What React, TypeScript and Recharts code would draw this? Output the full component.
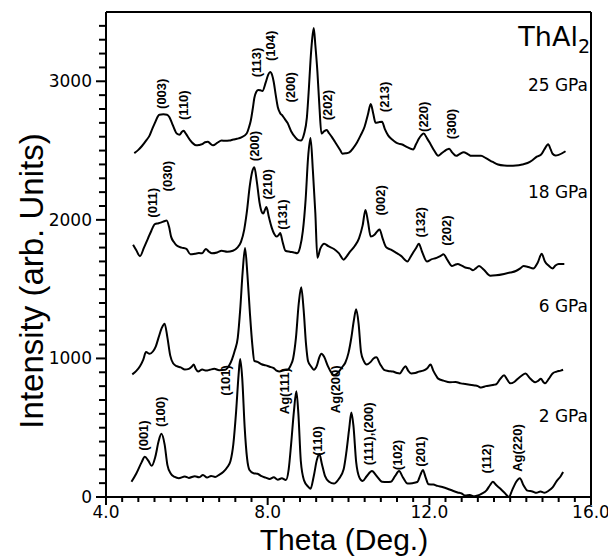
import { LineChart, Line, XAxis, YAxis, ReferenceLine, ReferenceDot } from 'recharts';

// 2 GPa pattern (theta, intensity)
const theta2 = [4.63, 4.75, 4.88, 4.96, 5.05, 5.13, 5.22, 5.3, 5.37, 5.45, 5.52, 5.6, 5.7, 5.8, 5.95, 6.05, 6.2, 6.3, 6.4, 6.5, 6.6, 6.7, 6.8, 6.9, 7.0, 7.08, 7.15, 7.22, 7.28, 7.32, 7.37, 7.43, 7.49, 7.55, 7.65, 7.75, 7.85, 7.95, 8.05, 8.15, 8.25, 8.35, 8.45, 8.52, 8.58, 8.65, 8.71, 8.76, 8.82, 8.9, 9.0, 9.06, 9.14, 9.22, 9.28, 9.34, 9.42, 9.52, 9.64, 9.76, 9.88, 9.95, 10.02, 10.07, 10.12, 10.19, 10.27, 10.35, 10.45, 10.58, 10.7, 10.83, 10.95, 11.05, 11.15, 11.25, 11.35, 11.46, 11.58, 11.7, 11.78, 11.84, 11.91, 11.98, 12.1, 12.2, 12.32, 12.45, 12.58, 12.7, 12.8, 12.89, 13.0, 13.1, 13.18, 13.3, 13.42, 13.5, 13.57, 13.66, 13.76, 13.86, 13.97, 14.05, 14.15, 14.24, 14.33, 14.43, 14.55, 14.65, 14.75, 14.85, 14.95, 15.05, 15.15, 15.25, 15.31];
const int2 = [110, 170, 250, 290, 260, 225, 290, 400, 456, 380, 230, 170, 145, 136, 148, 138, 150, 142, 158, 140, 152, 145, 160, 180, 215, 260, 380, 620, 880, 995, 860, 508, 280, 195, 172, 168, 150, 140, 130, 142, 125, 135, 122, 200, 380, 620, 764, 600, 260, 120, 75, 60, 150, 270, 310, 240, 150, 110, 97, 130, 200, 330, 500, 610, 520, 251, 140, 115, 150, 187, 150, 110, 108, 110, 150, 187, 140, 97, 100, 108, 160, 195, 140, 92, 90, 80, 72, 60, 45, 33, 25, 10, 15, 5, 10, 25, 50, 85, 110, 85, 59, 30, 0, 50, 110, 136, 85, 46, 40, 30, 40, 30, 45, 70, 115, 150, 180];

// 6 GPa pattern
const theta6 = [4.65, 4.75, 4.84, 4.92, 4.99, 5.08, 5.16, 5.23, 5.3, 5.38, 5.45, 5.52, 5.59, 5.66, 5.75, 5.85, 5.95, 6.05, 6.12, 6.17, 6.22, 6.28, 6.38, 6.48, 6.57, 6.68, 6.8, 6.95, 7.05, 7.12, 7.19, 7.26, 7.32, 7.38, 7.44, 7.5, 7.56, 7.62, 7.67, 7.75, 7.85, 7.95, 8.05, 8.15, 8.22, 8.29, 8.4, 8.49, 8.57, 8.63, 8.7, 8.77, 8.83, 8.89, 8.95, 9.0, 9.08, 9.14, 9.22, 9.28, 9.33, 9.4, 9.49, 9.56, 9.64, 9.75, 9.85, 9.92, 10.0, 10.07, 10.13, 10.19, 10.25, 10.31, 10.38, 10.45, 10.55, 10.62, 10.69, 10.78, 10.88, 10.98, 11.1, 11.2, 11.27, 11.34, 11.41, 11.48, 11.55, 11.65, 11.74, 11.85, 11.95, 12.03, 12.1, 12.18, 12.22, 12.35, 12.51, 12.65, 12.78, 12.89, 13.0, 13.12, 13.2, 13.28, 13.4, 13.5, 13.6, 13.66, 13.75, 13.85, 13.92, 14.0, 14.1, 14.19, 14.28, 14.38, 14.48, 14.55, 14.62, 14.7, 14.76, 14.82, 14.86, 14.95, 15.05, 15.15, 15.25, 15.31];
const int6 = [885, 910, 944, 990, 1046, 1033, 1050, 1085, 1150, 1220, 1251, 1150, 1020, 965, 944, 935, 920, 925, 940, 956, 925, 905, 920, 912, 918, 925, 915, 918, 950, 995, 1060, 1149, 1350, 1620, 1797, 1600, 1330, 1100, 982, 975, 958, 950, 940, 930, 912, 905, 915, 918, 950, 1000, 1150, 1400, 1513, 1350, 1100, 980, 940, 918, 950, 1010, 1033, 1010, 944, 905, 879, 900, 940, 969, 1040, 1149, 1270, 1354, 1250, 1046, 980, 956, 975, 1000, 1008, 960, 918, 910, 905, 895, 892, 920, 944, 910, 892, 895, 905, 912, 930, 956, 910, 870, 854, 840, 828, 830, 820, 815, 810, 805, 800, 790, 800, 805, 810, 815, 850, 879, 850, 820, 830, 854, 875, 892, 860, 840, 828, 840, 854, 830, 820, 850, 892, 905, 912, 918];

// 18 GPa pattern
const theta18 = [4.67, 4.75, 4.84, 4.94, 5.04, 5.12, 5.21, 5.3, 5.37, 5.44, 5.5, 5.56, 5.61, 5.68, 5.75, 5.87, 5.99, 6.09, 6.2, 6.3, 6.38, 6.47, 6.55, 6.62, 6.75, 6.86, 7.0, 7.14, 7.25, 7.34, 7.42, 7.48, 7.56, 7.62, 7.67, 7.73, 7.8, 7.85, 7.89, 7.93, 7.97, 8.03, 8.1, 8.16, 8.22, 8.27, 8.31, 8.37, 8.44, 8.55, 8.65, 8.73, 8.8, 8.87, 8.94, 9.0, 9.06, 9.12, 9.18, 9.23, 9.3, 9.4, 9.5, 9.64, 9.76, 9.88, 9.95, 10.02, 10.15, 10.26, 10.35, 10.42, 10.48, 10.55, 10.65, 10.72, 10.77, 10.84, 10.93, 11.05, 11.17, 11.3, 11.46, 11.53, 11.6, 11.67, 11.74, 11.82, 11.94, 12.05, 12.18, 12.28, 12.35, 12.45, 12.56, 12.63, 12.7, 12.8, 12.89, 13.0, 13.08, 13.15, 13.23, 13.35, 13.51, 13.65, 13.85, 14.0, 14.14, 14.25, 14.33, 14.45, 14.57, 14.68, 14.78, 14.86, 14.95, 15.05, 15.12, 15.2, 15.34];
const int18 = [1820, 1780, 1738, 1800, 1867, 1920, 1969, 1975, 1982, 1990, 1995, 1950, 1879, 1840, 1815, 1800, 1790, 1751, 1755, 1760, 1759, 1790, 1770, 1759, 1765, 1777, 1770, 1777, 1800, 1841, 1930, 2046, 2250, 2350, 2379, 2280, 2123, 2060, 2046, 2070, 2092, 2020, 1944, 1900, 1879, 1890, 1905, 1840, 1777, 1770, 1765, 1759, 1800, 1918, 2150, 2450, 2590, 2350, 2046, 1726, 1790, 1828, 1810, 1790, 1760, 1713, 1735, 1764, 1810, 1867, 1960, 2072, 1990, 1879, 1895, 1920, 1931, 1870, 1803, 1785, 1764, 1740, 1700, 1730, 1764, 1795, 1828, 1770, 1700, 1715, 1726, 1740, 1751, 1710, 1667, 1675, 1682, 1670, 1656, 1650, 1636, 1650, 1667, 1640, 1597, 1600, 1610, 1620, 1631, 1650, 1667, 1660, 1649, 1690, 1755, 1700, 1670, 1649, 1670, 1682, 1682];

// 25 GPa pattern
const theta25 = [4.7, 4.8, 4.89, 5.0, 5.08, 5.15, 5.21, 5.28, 5.32, 5.42, 5.51, 5.57, 5.63, 5.7, 5.75, 5.82, 5.88, 5.92, 5.98, 6.09, 6.16, 6.23, 6.3, 6.38, 6.45, 6.52, 6.58, 6.65, 6.75, 6.86, 6.95, 7.05, 7.15, 7.24, 7.35, 7.48, 7.54, 7.58, 7.63, 7.67, 7.72, 7.77, 7.82, 7.87, 7.95, 8.01, 8.06, 8.11, 8.15, 8.2, 8.25, 8.31, 8.37, 8.43, 8.49, 8.58, 8.68, 8.76, 8.82, 8.9, 8.97, 9.02, 9.06, 9.1, 9.14, 9.18, 9.23, 9.28, 9.33, 9.4, 9.46, 9.52, 9.59, 9.66, 9.73, 9.8, 9.85, 9.93, 10.02, 10.12, 10.21, 10.3, 10.4, 10.48, 10.55, 10.61, 10.67, 10.75, 10.83, 10.9, 10.98, 11.08, 11.17, 11.24, 11.31, 11.45, 11.6, 11.67, 11.74, 11.8, 11.86, 11.94, 12.03, 12.12, 12.22, 12.3, 12.37, 12.44, 12.49, 12.57, 12.66, 12.75, 12.85, 12.95, 13.04, 13.15, 13.28, 13.4, 13.57, 13.7, 13.85, 14.0, 14.14, 14.3, 14.43, 14.55, 14.66, 14.76, 14.85, 14.94, 15.0, 15.05, 15.12, 15.2, 15.37];
const int25 = [2482, 2505, 2533, 2575, 2610, 2660, 2700, 2745, 2759, 2762, 2759, 2740, 2700, 2650, 2623, 2615, 2635, 2643, 2620, 2572, 2550, 2538, 2540, 2546, 2560, 2564, 2550, 2538, 2555, 2572, 2570, 2572, 2580, 2585, 2595, 2623, 2670, 2713, 2800, 2879, 2925, 2938, 2935, 2930, 2990, 3045, 3067, 3045, 2995, 2900, 2815, 2770, 2751, 2725, 2700, 2640, 2597, 2575, 2572, 2620, 2738, 2950, 3149, 3300, 3385, 3260, 3072, 2820, 2623, 2640, 2649, 2625, 2597, 2565, 2533, 2500, 2477, 2480, 2487, 2520, 2559, 2610, 2674, 2760, 2836, 2770, 2700, 2705, 2708, 2655, 2610, 2580, 2559, 2550, 2546, 2525, 2508, 2545, 2585, 2610, 2623, 2590, 2546, 2500, 2462, 2480, 2495, 2508, 2513, 2485, 2462, 2475, 2487, 2475, 2462, 2462, 2462, 2445, 2418, 2400, 2392, 2390, 2392, 2400, 2410, 2430, 2456, 2469, 2510, 2546, 2510, 2477, 2465, 2469, 2495];

// peak index labels: [text, theta, intensity at label centre]
const peakLabels25 = [
  ['(003)', 5.37, 2910], ['(110)', 5.92, 2828], ['(113)', 7.72, 3136], ['(104)', 8.08, 3256],
  ['(200)', 8.56, 2956], ['(202)', 9.49, 2828], ['(213)', 10.9, 2887], ['(220)', 11.86, 2744],
  ['(300)', 12.54, 2692],
];
const peakLabels18 = [
  ['(011)', 5.15, 2123], ['(030)', 5.53, 2315], ['(200)', 7.67, 2533], ['(210)', 7.99, 2256],
  ['(131)', 8.37, 2038], ['(002)', 10.79, 2141], ['(132)', 11.77, 1982], ['(202)', 12.42, 1923],
];
const peakLabels2 = [
  ['(001)', 4.94, 444], ['(100)', 5.34, 615], ['(101)', 6.95, 841], ['Ag(111)', 8.42, 764],
  ['(110)', 9.23, 405], ['Ag(200)', 9.69, 777], ['(111),(200)', 10.5, 456], ['(102)', 11.22, 303],
  ['(201)', 11.79, 328], ['(112)', 13.42, 277], ['Ag(220)', 14.19, 354],
];

const pressureLabels = [['25  GPa', 91], ['18  GPa', 198], ['6  GPa', 312], ['2  GPa', 422]];

const xTicks = Array.from({ length: 31 }, (_, i) => +(4 + i * 0.4).toFixed(1));
const yTicks = Array.from({ length: 35 }, (_, i) => i * 100);
const isMajorX = (v) => Math.abs(v / 4 - Math.round(v / 4)) < 1e-6;
const isMajorY = (v) => v % 1000 === 0;

// plot box (must agree with the chart margins / axis sizes below)
const W = 608;
const H = 557;
const M = { top: 12, right: 17, bottom: 20, left: 56 };
const X_AXIS_H = 40;
const Y_AXIS_W = 50;
const plotL = M.left + Y_AXIS_W;
const plotR = W - M.right;
const plotT = M.top;
const plotB = H - M.bottom - X_AXIS_H;
const sx = (v) => plotL + ((v - 4) / 12) * (plotR - plotL);
const sy = (v) => plotB - (v / 3500) * (plotB - plotT);

const zip = (xs, ys) => xs.map((x, i) => ({ x, y: ys[i] }));
const series = [zip(theta2, int2), zip(theta6, int6), zip(theta18, int18), zip(theta25, int25)];

const tickFont = { fontFamily: 'DejaVu Sans', fontSize: 17, fill: '#000' };

const XTick = ({ x, y, payload }) => {
  const v = payload.value;
  if (!isMajorX(v)) return <g />;
  return (
    <text x={x} y={y + 21} textAnchor="middle" {...tickFont}>
      {v.toFixed(1)}
    </text>
  );
};

const YTick = ({ x, y, payload }) => {
  const v = payload.value;
  if (!isMajorY(v)) return <g />;
  return (
    <text x={x - 14} y={y + 6} textAnchor="end" {...tickFont}>
      {v}
    </text>
  );
};

const peakText = (text) => (p) => (
  <text
    x={p.cx}
    y={p.cy}
    transform={`rotate(-90 ${p.cx} ${p.cy})`}
    textAnchor="middle"
    dominantBaseline="central"
    fontFamily="Liberation Sans"
    fontWeight="bold"
    fontSize={13}
    fill="#000"
  >
    {text}
  </text>
);

const axisLine = { stroke: '#000', strokeWidth: 2 };

export default function App() {
  const allLabels = [...peakLabels25, ...peakLabels18, ...peakLabels2];
  return (
    <div style={{ position: 'absolute', left: 0, top: 0, width: W, height: H, background: '#fff' }}>
      <LineChart width={W} height={H} margin={M}>
        <XAxis
          dataKey="x"
          type="number"
          domain={[4, 16]}
          ticks={xTicks}
          interval={0}
          height={X_AXIS_H}
          tickSize={0}
          tickMargin={0}
          tickLine={false}
          axisLine={axisLine}
          tick={XTick}
          allowDataOverflow
        />
        <YAxis
          type="number"
          domain={[0, 3500]}
          ticks={yTicks}
          interval={0}
          width={Y_AXIS_W}
          tickSize={0}
          tickMargin={0}
          tickLine={false}
          axisLine={axisLine}
          tick={YTick}
          allowDataOverflow
        />
        <ReferenceLine y={3500} stroke="#000" strokeWidth={2} />
        <ReferenceLine x={16} stroke="#000" strokeWidth={2} />
        {series.map((d, i) => (
          <Line
            key={i}
            data={d}
            dataKey="y"
            type="monotone"
            stroke="#000"
            strokeWidth={2}
            dot={false}
            isAnimationActive={false}
          />
        ))}
        {allLabels.map(([t, x, y], i) => (
          <ReferenceDot key={`pk-${i}`} x={x} y={y} r={0} shape={peakText(t)} />
        ))}
      </LineChart>
      <svg
        width={W}
        height={H}
        style={{ position: 'absolute', left: 0, top: 0, pointerEvents: 'none', whiteSpace: 'pre' }}
      >
        <g stroke="#000" strokeWidth={2}>
          {xTicks.map((v) => (
            <line key={`xt-${v}`} x1={sx(v)} x2={sx(v)} y1={plotB} y2={plotB + (isMajorX(v) ? 8 : 5)} />
          ))}
          {yTicks.map((v) => (
            <line key={`yt-${v}`} x1={plotL - (isMajorY(v) ? 10 : 7)} x2={plotL} y1={sy(v)} y2={sy(v)} />
          ))}
        </g>
        <text x={344} y={550} textAnchor="middle" fontFamily="Liberation Sans" fontSize={30} fill="#000">
          Theta  (Deg.)
        </text>
        <text
          transform="translate(43,281) rotate(-90)"
          textAnchor="middle"
          fontFamily="Liberation Sans"
          fontSize={33}
          fill="#000"
        >
          Intensity  (arb.  Units)
        </text>
        <text x={590} y={46} textAnchor="end" fontFamily="DejaVu Sans" fontSize={27} fill="#000">
          ThAl<tspan fontSize={19} dy={7}>2</tspan>
        </text>
        {pressureLabels.map(([t, y]) => (
          <text key={t} x={588} y={y} textAnchor="end" fontFamily="DejaVu Sans" fontSize={17} fill="#000">
            {t}
          </text>
        ))}
      </svg>
    </div>
  );
}
